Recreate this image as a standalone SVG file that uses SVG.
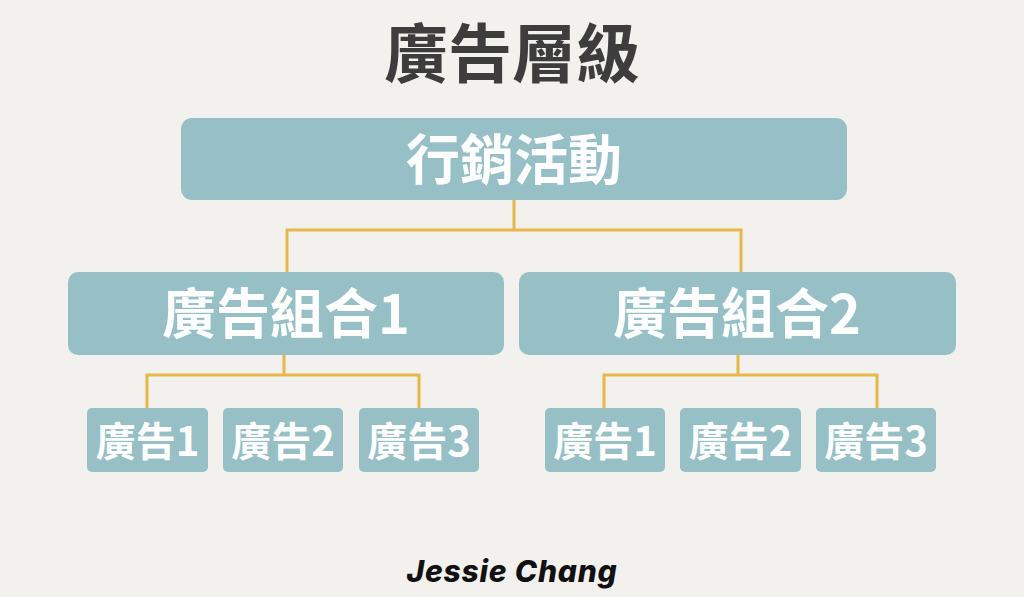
<svg xmlns="http://www.w3.org/2000/svg" width="1024" height="597" viewBox="0 0 1024 597">
<style>
.box{fill:#96c0c5}
.lbl{fill:#ffffff;font-family:"Noto Sans CJK TC","Noto Sans CJK SC",sans-serif;font-weight:700;text-anchor:middle}
.conn{fill:none;stroke:#e8b64a;stroke-width:3}
</style>
<rect width="1024" height="597" fill="#f3f1ee"/>
<text x="512" y="77" font-family="'Noto Sans CJK TC','Noto Sans CJK SC',sans-serif" font-weight="700" font-size="64" fill="#3d3d3d" text-anchor="middle">廣告層級</text>
<g id="connectors">
<path class="conn" d="M514 200V230M287 272V230H741V272"/>
<path class="conn" d="M284 355V375M147 408V375H419V408"/>
<path class="conn" d="M738 355V375M604 408V375H877V408"/>
</g>
<g id="campaign"><rect class="box" x="181" y="118" width="666" height="82" rx="11"/><text class="lbl" x="514" y="180" font-size="54">行銷活動</text></g>
<g id="adset1"><rect class="box" x="68" y="272" width="436" height="83" rx="10"/><text class="lbl" x="286" y="334" font-size="54">廣告組合1</text></g>
<g id="adset2"><rect class="box" x="519" y="272" width="437" height="83" rx="10"/><text class="lbl" x="737" y="334" font-size="54">廣告組合2</text></g>
<g id="ad1-1"><rect class="box" x="87" y="408" width="121" height="64" rx="5"/><text class="lbl" x="147.5" y="456" font-size="40">廣告1</text></g>
<g id="ad1-2"><rect class="box" x="223" y="408" width="120" height="64" rx="5"/><text class="lbl" x="283" y="456" font-size="40">廣告2</text></g>
<g id="ad1-3"><rect class="box" x="359" y="408" width="120" height="64" rx="5"/><text class="lbl" x="419" y="456" font-size="40">廣告3</text></g>
<g id="ad2-1"><rect class="box" x="545" y="408" width="120" height="64" rx="5"/><text class="lbl" x="605" y="456" font-size="40">廣告1</text></g>
<g id="ad2-2"><rect class="box" x="680" y="408" width="121" height="64" rx="5"/><text class="lbl" x="740.5" y="456" font-size="40">廣告2</text></g>
<g id="ad2-3"><rect class="box" x="816" y="408" width="120" height="64" rx="5"/><text class="lbl" x="876" y="456" font-size="40">廣告3</text></g>
<text x="512" y="582" font-family="Inter,'Liberation Sans',sans-serif" font-weight="800" font-style="italic" font-size="30" letter-spacing="0.8" fill="#111111" text-anchor="middle">Jessie Chang</text>
</svg>
